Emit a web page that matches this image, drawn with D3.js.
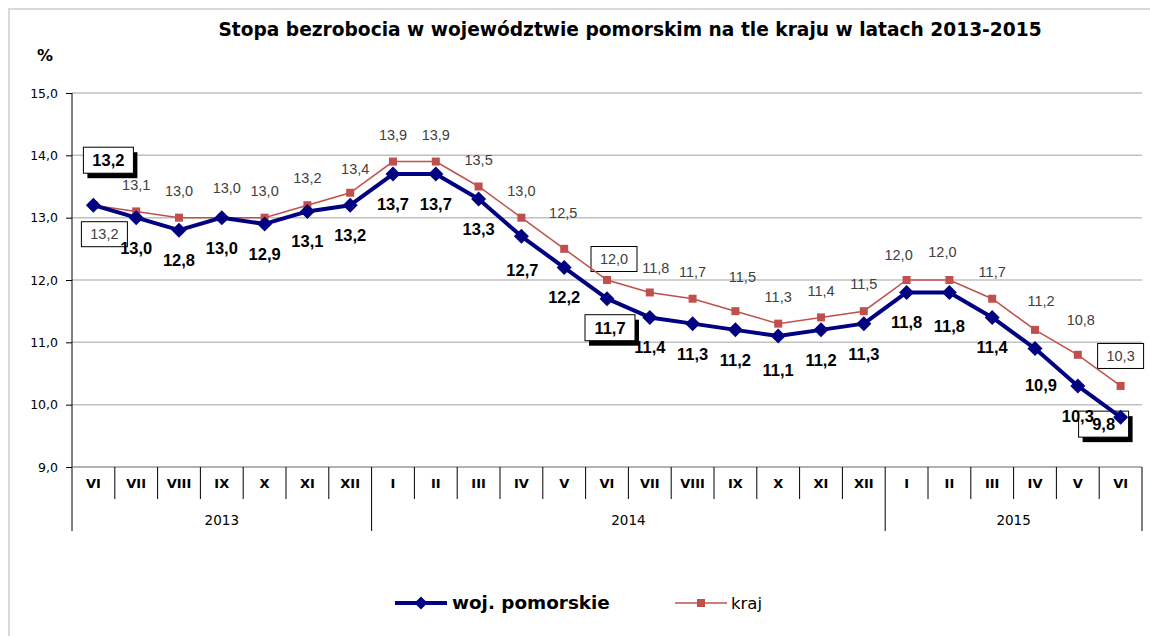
<!DOCTYPE html>
<html>
<head>
<meta charset="utf-8">
<script src="https://cdn.jsdelivr.net/npm/d3@7"></script>
<style>
  html, body { margin: 0; padding: 0; background: #fff; }
  svg { display: block; }
</style>
</head>
<body>
<svg id="chart" width="1150" height="636"></svg>
<script>
// ---------- data ----------
const titleText = "Stopa bezrobocia w województwie pomorskim na tle kraju w latach 2013-2015";
const unitLabel = "%";
const months = ["VI","VII","VIII","IX","X","XI","XII",
                "I","II","III","IV","V","VI","VII","VIII","IX","X","XI","XII",
                "I","II","III","IV","V","VI"];
const years = ["2013","2014","2015"];
const yearCounts = [7, 12, 6];
const pomorskie = [13.2,13.0,12.8,13.0,12.9,13.1,13.2,13.7,13.7,13.3,12.7,12.2,11.7,11.4,11.3,11.2,11.1,11.2,11.3,11.8,11.8,11.4,10.9,10.3,9.8];
const kraj      = [13.2,13.1,13.0,13.0,13.0,13.2,13.4,13.9,13.9,13.5,13.0,12.5,12.0,11.8,11.7,11.5,11.3,11.4,11.5,12.0,12.0,11.7,11.2,10.8,10.3];
const seriesNames = ["woj. pomorskie", "kraj"];
const yTicks = [9,10,11,12,13,14,15];

// ---------- layout / style ----------
const svg = d3.select("#chart");
const W = 1150, H = 636;
const plot = {left: 72, right: 1142, top: 93, bottom: 467};
const navy = "#000080", red = "#c0504d";
const fmt = v => d3.format(".1f")(v).replace(".", ",");

// label offsets (pixels) relative to the point; boxed ones flagged
const pomLabel = {def: [0, 30], 0: [15, -45, true], 10: [1, 34], 12: [3, 29, true], 16: [0, 34], 20: [0, 34], 22: [6, 36], 24: [-17, 7, true]};
const krajLabel = {def: [0, -27], 0: [11, 29, true], 3: [5, -30], 6: [5,-24], 11: [-1, -36], 12: [7, -21, true], 13: [6, -25], 15: [7, -34], 19: [-8, -25], 20: [-7, -28], 22: [6, -29], 23: [3, -35], 24: [0, -30, true]};

// frame
svg.append("rect").attr("x", 0).attr("y", 0).attr("width", W).attr("height", H).attr("fill", "#fff");
svg.append("path").attr("d", `M9,${H} L9,9 L${W},9`).attr("fill", "none")
   .attr("stroke", "#d9d9d9").attr("stroke-width", 2);

// scales
const x = d3.scaleBand().domain(d3.range(months.length)).range([plot.left, plot.right]).padding(0);
const y = d3.scaleLinear().domain([9, 15]).range([plot.bottom, plot.top]);
const cx = i => x(i) + x.bandwidth() / 2;

// gridlines
svg.append("g").selectAll("line").data(yTicks.filter(t => t > 9)).join("line")
  .attr("x1", plot.left).attr("x2", plot.right)
  .attr("y1", d => y(d)).attr("y2", d => y(d))
  .attr("stroke", "#c0c0c0").attr("stroke-width", 1.5);

// y axis
const yAxis = d3.axisLeft(y).tickValues(yTicks).tickSize(6).tickFormat(fmt);
const gy = svg.append("g").attr("transform", `translate(${plot.left},0)`).call(yAxis);
gy.select(".domain").remove();
gy.selectAll(".tick line").attr("stroke", "#000");
gy.selectAll(".tick text").attr("font-family", "DejaVu Sans").attr("font-size", 12.5)
  .attr("fill", "#000").attr("x", -14);
svg.append("line").attr("x1", plot.left).attr("x2", plot.left).attr("y1", plot.top).attr("y2", 531)
  .attr("stroke", "#000").attr("stroke-width", 1);

// x axis line
svg.append("line").attr("x1", plot.left).attr("x2", plot.right).attr("y1", plot.bottom).attr("y2", plot.bottom)
  .attr("stroke", "#666").attr("stroke-width", 1.2);

// month dividers
const yearStarts = [0];
yearCounts.forEach((c, i) => yearStarts.push(yearStarts[i] + c));
const boundaries = d3.range(1, months.length + 1);
svg.append("g").selectAll("line").data(boundaries).join("line")
  .attr("x1", i => i < months.length ? x(i) : plot.right)
  .attr("x2", i => i < months.length ? x(i) : plot.right)
  .attr("y1", plot.bottom)
  .attr("y2", i => yearStarts.includes(i) ? 531 : 499)
  .attr("stroke", "#000").attr("stroke-width", 1);

svg.append("g").selectAll("text").data(months).join("text")
  .attr("x", (d, i) => cx(i)).attr("y", 488)
  .attr("text-anchor", "middle")
  .attr("font-family", "DejaVu Sans").attr("font-weight", "bold").attr("font-size", 13)
  .attr("fill", "#000").text(d => d);

svg.append("g").selectAll("text").data(years).join("text")
  .attr("x", (d, i) => {
    const a = x(yearStarts[i]);
    const b = yearStarts[i + 1] < months.length ? x(yearStarts[i + 1]) : plot.right;
    return (a + b) / 2;
  })
  .attr("y", 525).attr("text-anchor", "middle")
  .attr("font-family", "DejaVu Sans").attr("font-size", 13.5).attr("fill", "#000")
  .text(d => d);

// layers
const boxLayer = svg.append("g");
const lineLayer = svg.append("g");
const labelLayer = svg.append("g");

function drawLabels(values, layout, bold) {
  values.forEach((v, i) => {
    const o = layout[i] || layout.def;
    const lx = cx(i) + o[0], ly = y(v) + o[1];
    if (o[2]) {
      const bw = bold ? 50 : 46, bh = bold ? 26 : 25;
      if (bold) {
        boxLayer.append("rect").attr("x", lx - bw / 2 + 4).attr("y", ly - bh / 2 + 5)
          .attr("width", bw).attr("height", bh).attr("fill", "#000");
      }
      boxLayer.append("rect").attr("x", lx - bw / 2).attr("y", ly - bh / 2)
        .attr("width", bw).attr("height", bh).attr("fill", "#fff")
        .attr("stroke", "#000").attr("stroke-width", 1);
    }
    labelLayer.append("text").attr("x", lx).attr("y", ly).attr("dy", "0.36em")
      .attr("text-anchor", "middle")
      .attr("font-family", "Liberation Sans")
      .attr("font-weight", bold ? "bold" : "normal")
      .attr("font-size", bold ? 16.5 : 14.5)
      .attr("fill", bold ? "#000" : "#404040")
      .text(fmt(v));
  });
}
drawLabels(kraj, krajLabel, false);
drawLabels(pomorskie, pomLabel, true);

// lines
const line = d3.line().x((d, i) => cx(i)).y(d => y(d));
lineLayer.append("path").datum(kraj).attr("d", line).attr("fill", "none")
  .attr("stroke", red).attr("stroke-width", 1.5);
lineLayer.append("g").selectAll("rect").data(kraj).join("rect")
  .attr("x", (d, i) => cx(i) - 4).attr("y", d => y(d) - 4)
  .attr("width", 8).attr("height", 8).attr("fill", red);

lineLayer.append("path").datum(pomorskie).attr("d", line).attr("fill", "none")
  .attr("stroke", navy).attr("stroke-width", 4).attr("stroke-linejoin", "round");
const diamond = (px, py, r) => `M${px},${py - r} L${px + r},${py} L${px},${py + r} L${px - r},${py} Z`;
lineLayer.append("g").selectAll("path").data(pomorskie).join("path")
  .attr("d", (d, i) => diamond(cx(i), y(d), 7.5)).attr("fill", navy);

// title
const title = svg.append("text").attr("x", 630).attr("y", 36).attr("text-anchor", "middle")
  .attr("font-family", "DejaVu Sans").attr("font-weight", "bold").attr("font-size", 100)
  .attr("fill", "#000").text(titleText);
const tw = title.node().getComputedTextLength();
title.attr("font-size", 100 * 824 / tw);

svg.append("text").attr("x", 45).attr("y", 61).attr("text-anchor", "middle")
  .attr("font-family", "DejaVu Sans").attr("font-weight", "bold").attr("font-size", 16)
  .attr("fill", "#000").text(unitLabel);

// legend
const lg = svg.append("g");
lg.append("line").attr("x1", 395).attr("x2", 447).attr("y1", 603).attr("y2", 603)
  .attr("stroke", navy).attr("stroke-width", 4);
lg.append("path").attr("d", diamond(421, 603, 6.5)).attr("fill", navy);
const lt = lg.append("text").attr("x", 452).attr("y", 609)
  .attr("font-family", "DejaVu Sans").attr("font-weight", "bold").attr("font-size", 100)
  .attr("fill", "#000").text(seriesNames[0]);
lt.attr("font-size", 100 * 158 / lt.node().getComputedTextLength());
lg.append("line").attr("x1", 675).attr("x2", 727).attr("y1", 603).attr("y2", 603)
  .attr("stroke", red).attr("stroke-width", 1.5);
lg.append("rect").attr("x", 697).attr("y", 599).attr("width", 8).attr("height", 8).attr("fill", red);
lg.append("text").attr("x", 731).attr("y", 609)
  .attr("font-family", "DejaVu Sans").attr("font-size", 16.5)
  .attr("fill", "#000").text(seriesNames[1]);
</script>
</body>
</html>
